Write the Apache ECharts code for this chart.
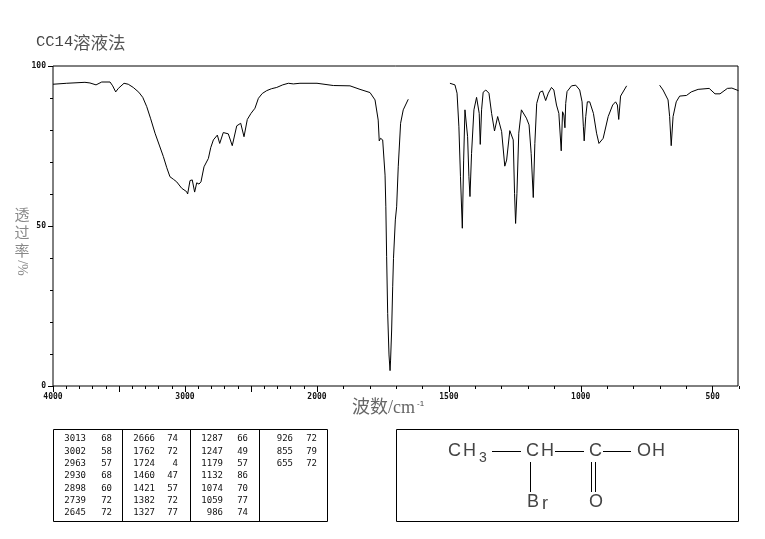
<!DOCTYPE html>
<html>
<head>
<meta charset="utf-8">
<style>html,body{margin:0;padding:0;background:#fff}#chart{width:765px;height:539px}</style>
<script src="https://cdn.jsdelivr.net/npm/echarts@6/dist/echarts.min.js"></script>
</head>
<body>
<div id="chart"></div>
<script>
// spectrum. the axis scale changes at 2000, so it is cut in pieces
const wnHigh = [4000,3896,3758,3720,3674,3631,3568,3548,3525,3505,3462,3430,3392,3350,3320,3290,3260,3227,3195,3164,3138,3114,3088,3063,3025,2987,2980,2962,2945,2927,2911,2894,2879,2856,2823,2805,2785,2755,2737,2710,2672,2642,2608,2578,2553,2528,2500,2470,2444,2415,2381,2345,2305,2260,2217,2179,2129,2000];
const tHigh = [94.3,94.6,94.9,94.7,94.1,95,95,93.8,91.9,93,94.6,94.3,93.3,91.8,90.2,87.3,83.5,79,75.3,71.7,68.2,65.4,64.6,63.8,61.8,60.7,60,64.2,64.4,60.6,63.5,63.1,63.8,68.5,71.1,74.5,76.9,78.4,75.8,79.2,78.8,75.1,81.3,82.1,77.9,83.3,85.2,86.8,89.9,91.4,92.3,92.9,93.3,94.1,94.6,94.4,94.6,94.6];
const wnMid = [2000,1938,1875,1837,1799,1780,1768,1764,1759,1751,1742,1739,1736,1732,1727,1723,1721,1717,1713,1710,1703,1698,1692,1683,1673,1654];
const tMid = [94.6,93.9,93.8,92.7,91.7,89.4,83.1,76.6,77.4,76.9,65.9,56,40.4,22.7,9.7,4.8,8.1,17.5,31,39.9,51.9,56,68.5,82.1,86.3,89.6];
const wnFinger = [1496,1477,1469,1462,1456,1449,1444,1439,1434,1429,1424,1420,1414,1405,1395,1390,1385,1381,1376,1370,1360,1348,1338,1327,1315,1309,1300,1288,1281,1269,1263,1256,1251,1247,1242,1235,1225,1218,1206,1196,1188,1180,1174,1167,1155,1145,1133,1123,1111,1102,1092,1083,1074,1069,1064,1060,1057,1052,1035,1019,1004,995,990,987,981,975,966,952,940,931,924,915,896,879,868,861,856,849,826];
const tFinger = [94.6,94.1,91.5,81,65.4,49.3,70.6,86.3,86.8,77.9,65.4,59.2,72.7,86.3,90.2,90.6,85.2,75.5,86.3,91.8,92.5,91.5,85.2,79.7,84.2,83.7,79.5,68.7,70.6,79.8,80,76.9,60.2,50.8,60.2,79,86.3,86.8,83.7,81.6,72.7,58.9,75.8,88.3,91.8,92.2,89.2,91.5,93.3,92.5,87.8,85.2,73.5,85.7,84.7,80.7,88.3,92,93.8,94,92.5,88.8,81,76.6,84.2,88.8,88.8,85.2,79,75.8,75.5,77.4,84.2,87.8,88.8,87.8,83.3,90.6,93.8];
const wnLow = [701,688,669,663,657,650,638,625,599,581,555,513,491,472,444,427,402];
const tLow = [94,92.5,89.4,84.2,75.1,84.2,88.8,90.6,90.8,91.9,92.7,93,91.3,91.3,93,93.1,92.3];

const highMajor = [4000,3500,3000,2500,2000];
const highLabels = [4000,3000,2000];
const lowMajor = [2000,1500,1000,500];
const lowLabels = [1500,1000,500];
const yLabels = [0,50,100];

// peak table, one list per column
const peakWn = [
  [3013,3002,2963,2930,2898,2739,2645],
  [2666,1762,1724,1460,1421,1382,1327],
  [1287,1247,1179,1132,1074,1059,986],
  [926,855,655]
];
const peakT = [
  [68,58,57,68,60,72,72],
  [74,72,4,47,57,72,77],
  [66,49,57,86,70,77,74],
  [72,79,72]
];

const ink = '#000';
const tickFont = {fontFamily: 'DejaVu Sans Mono', fontSize: 8, fontWeight: 'bold', color: '#111'};

function zip(a, b){
    return a.map(function(v, i){ return [v, b[i]]; });
}

function plain(value){
    return String(value);
}

function lineSeries(xIndex, yIndex, xs, ys){
    return {
        type: 'line',
        xAxisIndex: xIndex,
        yAxisIndex: yIndex,
        data: zip(xs, ys),
        symbol: 'none',
        silent: true,
        lineStyle: {color: ink, width: 1}
    };
}

// minor ticks on one axis, long ticks and labels on a second one
function xPair(grid, min, max, major, labels){
    return [
        {
            type: 'value', gridIndex: grid, position: 'bottom', inverse: true,
            min: min, max: max, interval: 100,
            axisLine: {show: false}, splitLine: {show: false},
            axisTick: {show: true, length: 3, lineStyle: {color: ink}},
            axisLabel: {show: false}
        },
        {
            type: 'value', gridIndex: grid, position: 'bottom', inverse: true,
            min: min, max: max,
            axisLine: {show: false}, splitLine: {show: false},
            axisTick: {show: true, length: 6, customValues: major, lineStyle: {color: ink}},
            axisLabel: Object.assign({show: true, margin: 7, customValues: labels, hideOverlap: false, formatter: plain}, tickFont)
        }
    ];
}

function hiddenY(grid){
    return {type: 'value', gridIndex: grid, min: 0, max: 100, show: false};
}

// table and structure drawing
var graphics = [];

function box(x1, y1, x2, y2){
    graphics.push({type: 'rect', shape: {x: x1, y: y1, width: x2 - x1, height: y2 - y1},
        style: {fill: 'none', stroke: ink, lineWidth: 1}});
}
function seg(x1, y1, x2, y2, color){
    graphics.push({type: 'line', shape: {x1: x1, y1: y1, x2: x2, y2: y2},
        style: {stroke: color || ink, lineWidth: 1}});
}
function label(x, y, text, font, fill, align, extra){
    graphics.push(Object.assign({type: 'text', x: x, y: y,
        style: Object.assign({text: text, font: font, fill: fill, textAlign: align || 'left', textVerticalAlign: 'middle'}, extra && extra.textStyle)},
        extra && extra.rotation ? {rotation: extra.rotation} : {}));
}

box(53.5, 429.5, 327.5, 521.5);
[122.5, 190.5, 259.5].forEach(function(x){ seg(x, 429.5, x, 521.5); });

const wnRight = [86, 155, 223, 293];
const tRight = [112, 178, 248, 317];
peakWn.forEach(function(col, c){
    col.forEach(function(v, r){
        let y = 439 + r * 12.3;
        let font = '9px "DejaVu Sans Mono"';
        label(wnRight[c], y, String(v), font, '#111', 'right');
        label(tRight[c], y, String(peakT[c][r]), font, '#111', 'right');
    });
});

box(396.5, 429.5, 738.5, 521.5);
const molFont = '18px "Liberation Sans"';
const molInk = '#444';
label(448, 451, 'C', molFont, molInk);
label(463, 451, 'H', molFont, molInk);
label(479, 458, '3', '14px "Liberation Sans"', molInk);
seg(492, 451.5, 521, 451.5);
label(526, 451, 'C', molFont, molInk);
label(541, 451, 'H', molFont, molInk);
seg(555, 451.5, 584, 451.5);
label(589, 451, 'C', molFont, molInk);
seg(603, 451.5, 631, 451.5);
label(637, 451, 'O', molFont, molInk);
label(652, 451, 'H', molFont, molInk);
seg(530.5, 462, 530.5, 492);
label(527, 502, 'B', molFont, molInk);
label(542, 504, 'r', molFont, molInk);
seg(591.5, 462, 591.5, 492);
seg(595.5, 462, 595.5, 492);
label(589, 502, 'O', molFont, molInk);

label(36, 42, 'CC14', '15.5px "Liberation Mono"', '#444');
label(73, 42, '溶液法', '17.5px "Noto Sans CJK SC"', '#555');
label(352, 408, '波数/cm', '18px "Liberation Serif", "Noto Sans CJK SC"', '#666');
label(417, 404, '-1', '8px "Liberation Sans"', '#444');
label(22, 232, '透\n过\n率', '15px "Noto Sans CJK SC"', '#888', 'center', {textStyle: {lineHeight: 18}});
label(22, 268, '/%', '14px "Liberation Serif"', '#888', 'center', {rotation: -Math.PI / 2});

var myChart = echarts.init(document.getElementById('chart'), null, {renderer: 'canvas'});
var option = {
    animation: false,
    backgroundColor: '#fff',
    grid: [
        {left: 53, top: 66, width: 264, height: 320},
        {left: 317, top: 66, width: 422, height: 320},
        {left: 53, top: 66, width: 685, height: 320, show: true, borderColor: ink, borderWidth: 1, backgroundColor: 'transparent'}
    ],
    xAxis: xPair(0, 2000, 4000, highMajor, highLabels)
        .concat(xPair(1, 400, 2000, lowMajor, lowLabels))
        .concat([{type: 'value', gridIndex: 2, min: 0, max: 1, show: false}]),
    yAxis: [
        hiddenY(0),
        hiddenY(1),
        {
            type: 'value', gridIndex: 2, position: 'left', min: 0, max: 100, interval: 10,
            axisLine: {show: false}, splitLine: {show: false},
            axisTick: {show: true, length: 3, lineStyle: {color: ink}},
            axisLabel: {show: false}
        },
        {
            type: 'value', gridIndex: 2, position: 'left', min: 0, max: 100,
            axisLine: {show: false}, splitLine: {show: false},
            axisTick: {show: true, length: 5, customValues: yLabels, lineStyle: {color: ink}},
            axisLabel: Object.assign({show: true, margin: 7, customValues: yLabels, formatter: plain}, tickFont)
        }
    ],
    series: [
        lineSeries(0, 0, wnHigh, tHigh),
        lineSeries(2, 1, wnMid, tMid),
        lineSeries(2, 1, wnFinger, tFinger),
        lineSeries(2, 1, wnLow, tLow)
    ],
    graphic: graphics
};
myChart.setOption(option);
</script>
</body>
</html>
